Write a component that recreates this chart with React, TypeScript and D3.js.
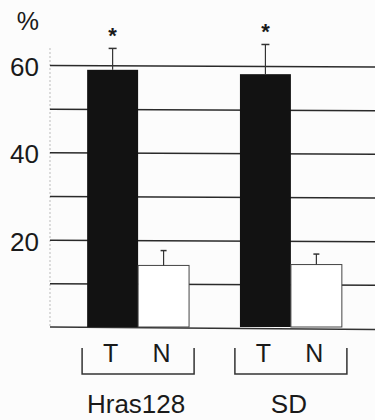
import * as d3 from "d3";

const groups = ["Hras128", "SD"];
const conditions = ["T", "N"];
// mean % per group, order follows conditions (T, N)
const means = [
  [58.9, 14.1],
  [57.9, 14.3],
];
const errors = [
  [4.9, 3.4],
  [6.8, 2.4],
];
const significant = [
  [true, false],
  [true, false],
];
const gridTicks = [10, 20, 30, 40, 50, 60];
const labelTicks = [20, 40, 60];

const FONT = "Arial, 'Liberation Sans', Helvetica, sans-serif";

export default function App() {
  const width = 375;
  const height = 420;
  const plotLeft = 50;
  const plotRight = 375;
  const plotTop = 65;
  const plotBottom = 327;

  const y = d3.scaleLinear().domain([0, 60]).range([plotBottom, plotTop]);

  const xGroup = d3
    .scaleBand()
    .domain(groups)
    .range([52, 377])
    .paddingInner(0.333)
    .paddingOuter(0.23);

  const xInner = d3
    .scaleBand()
    .domain(conditions)
    .range([0, xGroup.bandwidth()])
    .padding(0);

  const ink = "#1a1a1a";

  return (
    <svg
      width={width}
      height={height}
      style={{ position: "absolute", left: 0, top: 0, background: "#fcfcfc" }}
      fontFamily={FONT}
    >
      {/* left axis, faint dotted */}
      <line
        x1={plotLeft}
        x2={plotLeft}
        y1={48}
        y2={plotBottom}
        stroke="#bbb"
        strokeWidth={1}
        strokeDasharray="2 2"
      />

      {/* gridlines */}
      {gridTicks.map((t) => (
        <line
          key={`grid-${t}`}
          x1={plotLeft}
          x2={plotRight}
          y1={y(t) + 0.5}
          y2={y(t) + 2}
          stroke="#2a2a2a"
          strokeWidth={1.5}
        />
      ))}
      <line
        x1={plotLeft}
        x2={plotRight}
        y1={plotBottom}
        y2={plotBottom + 2.5}
        stroke="#333"
        strokeWidth={1.5}
      />

      {/* y labels */}
      <text x={39} y={30} textAnchor="end" fontSize={25} fill={ink}>
        %
      </text>
      {labelTicks.map((t) => (
        <text
          key={`ylab-${t}`}
          x={39}
          y={y(t) + 2}
          textAnchor="end"
          dominantBaseline="central"
          fontSize={26}
          fill={ink}
        >
          {t}
        </text>
      ))}

      {/* bars */}
      {groups.map((g, gi) => (
        <g key={g} transform={`translate(${xGroup(g)}, 0)`}>
          {conditions.map((c, ci) => {
            const v = means[gi][ci];
            const e = errors[gi][ci];
            const bx = xInner(c) ?? 0;
            const bw = xInner.bandwidth();
            const cx = bx + bw / 2;
            const isDark = c === "T";
            const capW = isDark ? 8 : 6;
            return (
              <g key={c}>
                {isDark ? (
                  <rect
                    x={bx}
                    y={y(v)}
                    width={bw}
                    height={plotBottom - y(v)}
                    fill="#121212"
                  />
                ) : (
                  <rect
                    x={bx}
                    y={y(v)}
                    width={bw}
                    height={plotBottom - y(v)}
                    fill="#ffffff"
                    stroke="#444"
                    strokeWidth={1}
                  />
                )}
                <line
                  x1={cx}
                  x2={cx}
                  y1={y(v)}
                  y2={y(v + e)}
                  stroke="#333"
                  strokeWidth={1.2}
                />
                <line
                  x1={cx - capW / 2}
                  x2={cx + capW / 2}
                  y1={y(v + e)}
                  y2={y(v + e)}
                  stroke="#333"
                  strokeWidth={1.5}
                />
                {significant[gi][ci] && (
                  <text
                    x={cx}
                    y={y(v + e) - 5}
                    textAnchor="middle"
                    fontSize={22}
                    fontWeight="bold"
                    fill={ink}
                  >
                    *
                  </text>
                )}
              </g>
            );
          })}
        </g>
      ))}

      {/* category brackets and labels */}
      {groups.map((g) => {
        const gx = xGroup(g) ?? 0;
        const center = gx + xGroup.bandwidth() / 2;
        const half = 56;
        return (
          <g key={`br-${g}`}>
            <path
              d={`M${center - half},348 V374 H${center + half} V348`}
              fill="none"
              stroke="#333"
              strokeWidth={1.5}
            />
            {conditions.map((c) => (
              <text
                key={c}
                x={gx + (xInner(c) ?? 0) + xInner.bandwidth() / 2 - 2}
                y={362}
                textAnchor="middle"
                fontSize={25}
                fill={ink}
              >
                {c}
              </text>
            ))}
            <text
              x={center - 2}
              y={413}
              textAnchor="middle"
              fontSize={26}
              fill={ink}
            >
              {g}
            </text>
          </g>
        );
      })}
    </svg>
  );
}
